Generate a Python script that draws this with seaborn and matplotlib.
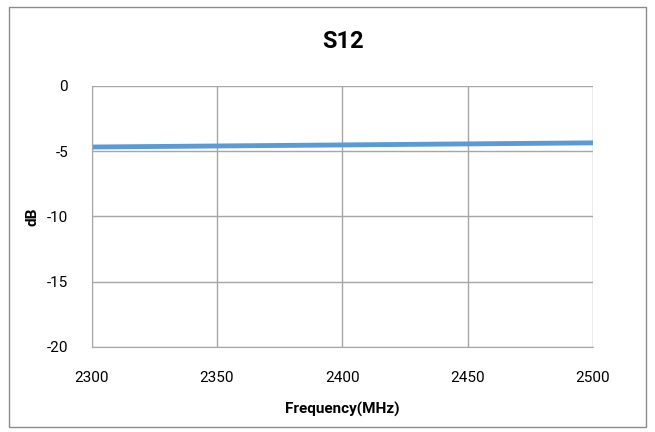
import matplotlib
matplotlib.use("Agg")
import matplotlib.pyplot as plt
import seaborn as sns
import pandas as pd
from matplotlib.patches import Rectangle

# === Data ===
freq_mhz = [2300, 2325, 2350, 2375, 2400, 2425, 2450, 2475, 2500]
s12_db = [-4.68, -4.64, -4.60, -4.56, -4.52, -4.48, -4.44, -4.40, -4.36]
x_ticks = [2300, 2350, 2400, 2450, 2500]
y_ticks = [0, -5, -10, -15, -20]

df = pd.DataFrame({"freq": freq_mhz, "db": s12_db})

sns.set_style("white")
plt.rcParams["font.family"] = ["Roboto", "DejaVu Sans"]
plt.rcParams["text.color"] = "black"

fig = plt.figure(figsize=(6.55, 4.32), dpi=100)
ax = fig.add_axes([0.140, 0.197, 0.765, 0.604])

sns.lineplot(data=df, x="freq", y="db", ax=ax, color="#5b9bd5", linewidth=3.5)

ax.set_xlim(2300, 2500)
ax.set_ylim(-20, 0)
ax.set_xticks(x_ticks)
ax.set_yticks(y_ticks)
ax.set_xticklabels([str(v) for v in x_ticks], fontsize=11, color="black")
ax.set_yticklabels([str(v) for v in y_ticks], fontsize=11, color="black")
ax.grid(True, color="#a6a6a6", linewidth=1)
ax.set_axisbelow(True)
for side in ["top", "right"]:
    ax.spines[side].set_visible(False)
for side in ["left", "bottom"]:
    ax.spines[side].set_color("#a6a6a6")
ax.tick_params(axis="y", length=5, color="#a6a6a6", pad=12)
ax.tick_params(axis="x", length=5, color="#a6a6a6", pad=12)

ax.set_xlabel("Frequency(MHz)", fontsize=11, fontweight="bold", color="black")
ax.set_ylabel("dB", fontsize=11, fontweight="bold", color="black")
ax.xaxis.set_label_coords(0.5, -0.212)
ax.yaxis.set_label_coords(-0.105, 0.5)
fig.text(0.523, 0.905, "S12", ha="center", va="center", fontsize=17,
         fontweight="bold", color="black")

# chart border
fig.patches.append(Rectangle((0.014, 0.012), 0.972, 0.972, transform=fig.transFigure,
                             fill=False, edgecolor="#8c8c8c", linewidth=1))

fig.savefig("out.png", dpi=100)
